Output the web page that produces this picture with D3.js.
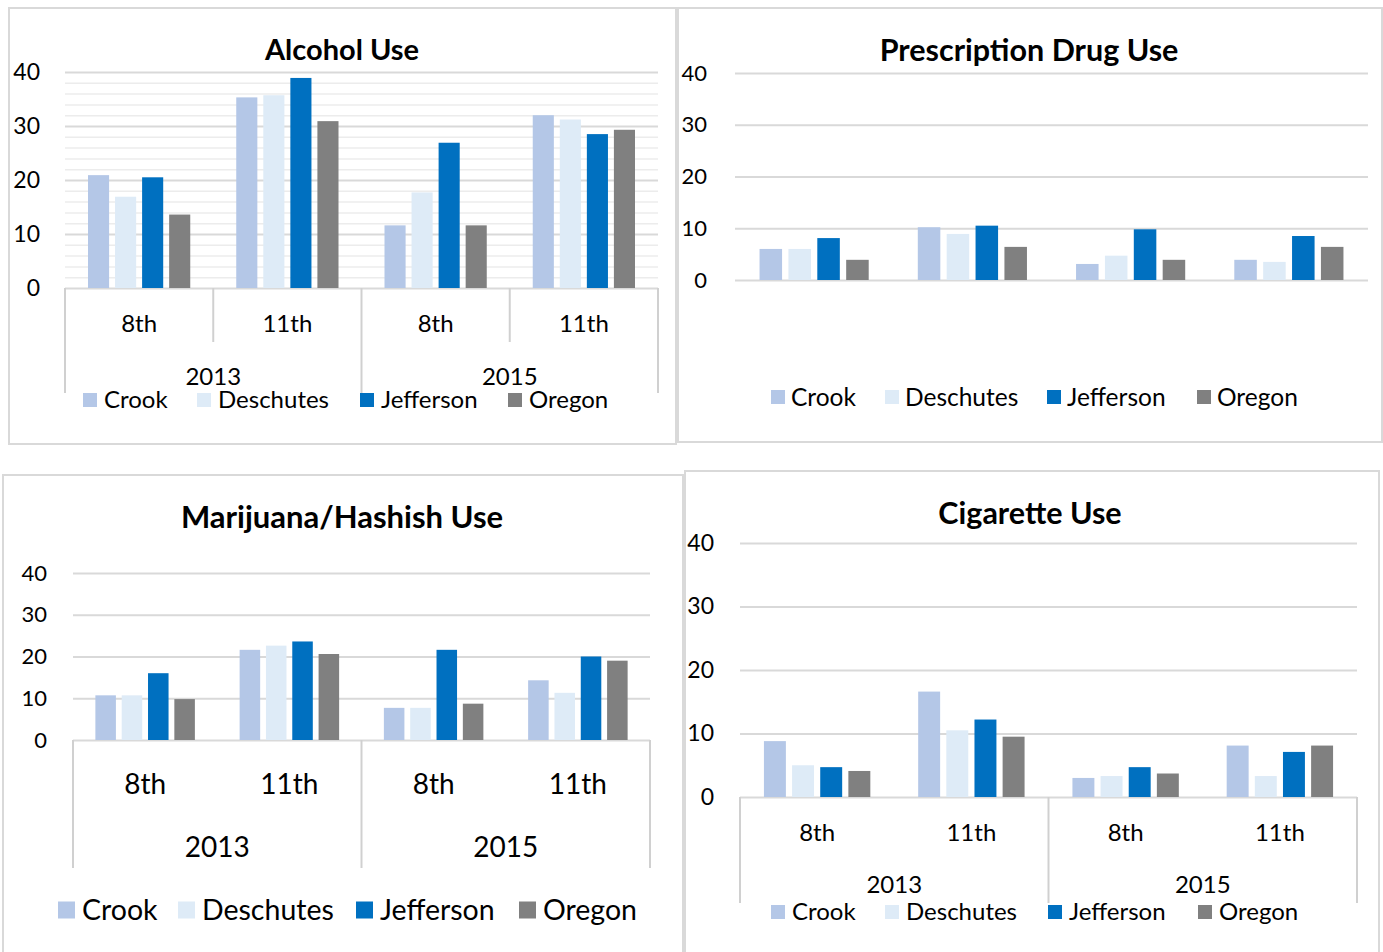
<!DOCTYPE html>
<html>
<head>
<meta charset="utf-8">
<script src="https://cdn.jsdelivr.net/npm/d3@7"></script>
<style>
  html, body { margin: 0; padding: 0; background: #fff; }
  svg { display: block; }
  text { font-family: Lato, "Open Sans", sans-serif; fill: #000; }
</style>
</head>
<body>
<svg id="chart" width="1383" height="952"></svg>
<script>
// ---------- data ----------
const seriesNames = ["Crook", "Deschutes", "Jefferson", "Oregon"];
const grades = ["8th", "11th", "8th", "11th"];
const years = ["2013", "2015"];
const yTicks = [0, 10, 20, 30, 40];

// values per category (2013 8th, 2013 11th, 2015 8th, 2015 11th), series order as seriesNames
const alcoholUse = [
  [20.9, 16.9, 20.5, 13.6],
  [35.3, 35.7, 38.9, 30.9],
  [11.6, 17.7, 26.9, 11.6],
  [32.0, 31.2, 28.5, 29.3]
];
const prescriptionUse = [
  [6.0, 6.0, 8.1, 3.9],
  [10.2, 8.9, 10.5, 6.4],
  [3.1, 4.7, 9.8, 3.9],
  [3.9, 3.5, 8.5, 6.4]
];
const marijuanaUse = [
  [10.7, 10.7, 16.0, 9.8],
  [21.6, 22.6, 23.6, 20.6],
  [7.7, 7.7, 21.6, 8.7],
  [14.3, 11.3, 20.0, 19.0]
];
const cigaretteUse = [
  [8.8, 5.0, 4.7, 4.1],
  [16.6, 10.5, 12.2, 9.5],
  [3.0, 3.3, 4.7, 3.7],
  [8.1, 3.3, 7.1, 8.1]
];

// ---------- styles ----------
const color = d3.scaleOrdinal().domain(seriesNames)
  .range(["#B4C7E7", "#DEEBF7", "#0070C0", "#808080"]);

const svg = d3.select("#chart");

function drawPanel(cfg) {
  const g = svg.append("g");
  g.append("rect")
    .attr("x", cfg.box[0]).attr("y", cfg.box[1])
    .attr("width", cfg.box[2]).attr("height", cfg.box[3])
    .attr("fill", "#fff").attr("stroke", "#d9d9d9").attr("stroke-width", 2);

  const x0 = d3.scaleBand().domain(d3.range(grades.length)).range([cfg.px0, cfg.px1]);
  const x1 = d3.scaleBand().domain(seriesNames).range([0, x0.bandwidth()])
    .paddingInner(0.22).paddingOuter(0.85);
  const y = d3.scaleLinear().domain([0, 40]).range([cfg.base, cfg.top]);
  const width = cfg.px1 - cfg.px0;

  // minor grid
  if (cfg.minor) {
    const minorTicks = d3.range(0, 41, 2).filter(v => v % 10 !== 0);
    g.append("g").attr("transform", `translate(${cfg.px0},0)`)
      .call(d3.axisLeft(y).tickValues(minorTicks).tickSize(-width).tickFormat(""))
      .call(s => s.select(".domain").remove())
      .call(s => s.selectAll("line").attr("stroke", "#ececec").attr("stroke-width", 1.5));
  }
  // major grid
  g.append("g").attr("transform", `translate(${cfg.px0},0)`)
    .call(d3.axisLeft(y).tickValues(yTicks).tickSize(-width).tickFormat(""))
    .call(s => s.select(".domain").remove())
    .call(s => s.selectAll("line").attr("stroke", "#d9d9d9").attr("stroke-width", 2));

  // y labels
  g.append("g").attr("transform", `translate(${cfg.labelRight},0)`)
    .call(d3.axisLeft(y).tickValues(yTicks).tickSize(0).tickPadding(0))
    .call(s => s.select(".domain").remove())
    .call(s => s.selectAll("text")
      .attr("font-size", cfg.tickSize).attr("fill", "#000")
      .attr("font-family", "Lato, sans-serif"));

  // bars
  g.append("g").selectAll("g").data(cfg.data).join("g")
    .attr("transform", (d, i) => `translate(${x0(i)},0)`)
    .selectAll("rect").data(d => d.map((v, j) => ({ name: seriesNames[j], v })))
    .join("rect")
    .attr("x", d => x1(d.name))
    .attr("width", x1.bandwidth())
    .attr("y", d => y(d.v))
    .attr("height", d => y(0) - y(d.v))
    .attr("fill", d => color(d.name));

  // category axis
  if (cfg.catAxis) {
    const ca = g.append("g");
    const sepColor = "#d0d0d0";
    const outer = [cfg.px0, x0(2), cfg.px1];
    outer.forEach(xv => ca.append("line")
      .attr("x1", xv).attr("x2", xv).attr("y1", cfg.base).attr("y2", cfg.outerEnd)
      .attr("stroke", sepColor).attr("stroke-width", 2));
    if (cfg.innerEnd) {
      [x0(1), x0(3)].forEach(xv => ca.append("line")
        .attr("x1", xv).attr("x2", xv).attr("y1", cfg.base).attr("y2", cfg.innerEnd)
        .attr("stroke", sepColor).attr("stroke-width", 2));
    }
    ca.selectAll("text.grade").data(grades).join("text").attr("class", "grade")
      .attr("x", (d, i) => x0(i) + x0.bandwidth() / 2)
      .attr("y", cfg.gradeY)
      .attr("text-anchor", "middle")
      .attr("font-size", cfg.catSize)
      .text(d => d);
    ca.selectAll("text.year").data(years).join("text").attr("class", "year")
      .attr("x", (d, i) => x0(i * 2) + x0.bandwidth())
      .attr("y", cfg.yearY)
      .attr("text-anchor", "middle")
      .attr("font-size", cfg.catSize)
      .text(d => d);
  }

  // title
  g.append("text")
    .attr("x", cfg.titleX).attr("y", cfg.titleY)
    .attr("text-anchor", "middle")
    .attr("font-weight", "bold")
    .attr("font-size", cfg.titleSize)
    .text(cfg.title);

  // legend
  const lg = g.append("g");
  const items = lg.selectAll("g").data(seriesNames).join("g")
    .attr("transform", (d, i) => `translate(${cfg.legendX[i]},${cfg.legendY})`);
  items.append("rect")
    .attr("x", 0).attr("y", -cfg.sq / 2)
    .attr("width", cfg.sq).attr("height", cfg.sq)
    .attr("fill", d => color(d));
  items.append("text")
    .attr("x", cfg.sq + cfg.legendGap).attr("y", 0)
    .attr("dy", "0.35em")
    .attr("font-size", cfg.legendSize)
    .text(d => d);
}

drawPanel({
  title: "Alcohol Use", data: alcoholUse,
  box: [9, 8, 667, 436],
  px0: 65, px1: 658, top: 72, base: 288, minor: true,
  labelRight: 40, tickSize: 23,
  catAxis: true, innerEnd: 342, outerEnd: 393, gradeY: 332, yearY: 385, catSize: 24,
  titleX: 342, titleY: 60, titleSize: 29,
  legendX: [83, 197, 360, 508], legendY: 400, sq: 14, legendGap: 7, legendSize: 24
});

drawPanel({
  title: "Prescription Drug Use", data: prescriptionUse,
  box: [678, 8, 704, 434],
  px0: 735, px1: 1368, top: 73, base: 280, minor: false,
  labelRight: 707, tickSize: 22,
  catAxis: false,
  titleX: 1029, titleY: 61, titleSize: 30.5,
  legendX: [771, 885, 1047, 1197], legendY: 397, sq: 14, legendGap: 6, legendSize: 24.5
});

drawPanel({
  title: "Marijuana/Hashish Use", data: marijuanaUse,
  box: [3, 475, 680, 490],
  px0: 73, px1: 650, top: 573, base: 740, minor: false,
  labelRight: 47, tickSize: 22,
  catAxis: true, innerEnd: null, outerEnd: 868, gradeY: 794, yearY: 857, catSize: 28,
  titleX: 342, titleY: 528, titleSize: 31,
  legendX: [58, 178, 356, 519], legendY: 910, sq: 17, legendGap: 7, legendSize: 28.5
});

drawPanel({
  title: "Cigarette Use", data: cigaretteUse,
  box: [685, 471, 694, 495],
  px0: 740, px1: 1357, top: 543, base: 797, minor: false,
  labelRight: 714, tickSize: 23,
  catAxis: true, innerEnd: null, outerEnd: 903, gradeY: 841, yearY: 893, catSize: 24,
  titleX: 1030, titleY: 524, titleSize: 30.5,
  legendX: [771, 885, 1048, 1198], legendY: 912, sq: 14, legendGap: 7, legendSize: 24
});
</script>
</body>
</html>
